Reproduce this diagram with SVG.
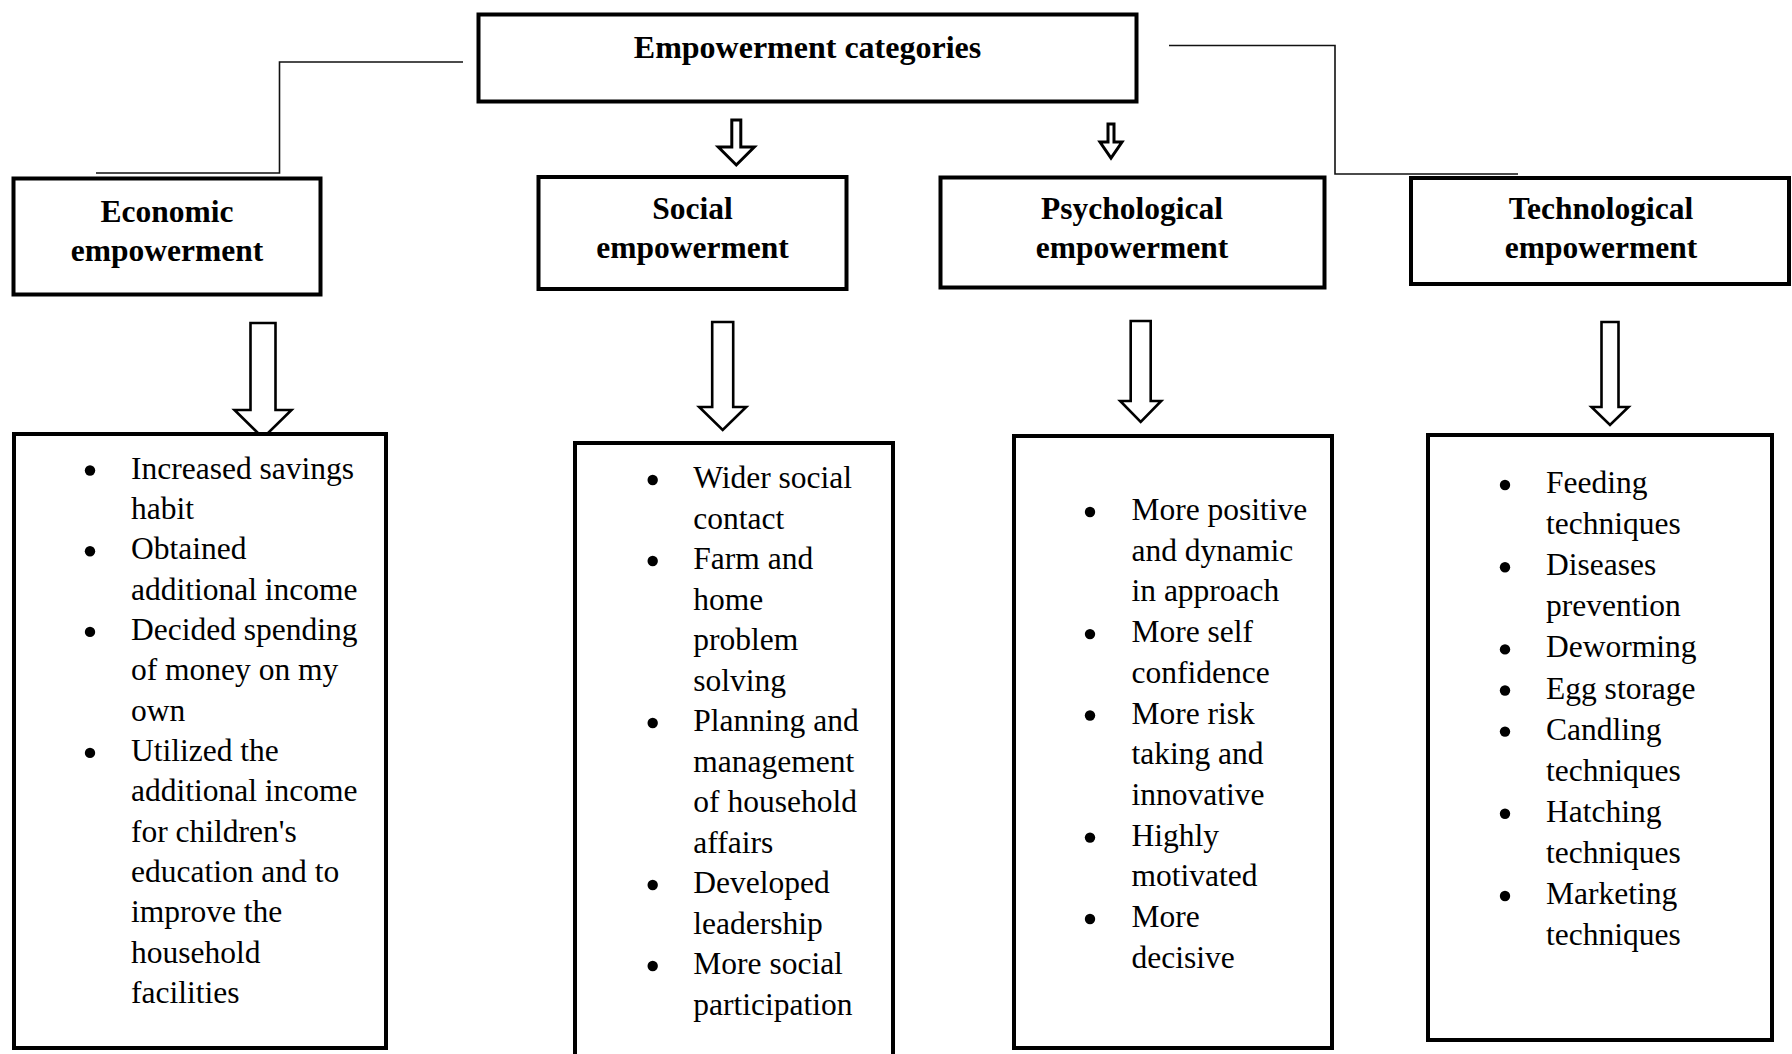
<svg xmlns="http://www.w3.org/2000/svg" width="1792" height="1054" viewBox="0 0 1792 1054">
<style>
.box{fill:#fff;stroke:#000;stroke-width:4}
.conn{fill:none;stroke:#111;stroke-width:1.6}
.arr{fill:#fff;stroke:#000;stroke-width:2.6;stroke-linejoin:miter}
.arrs{fill:#fff;stroke:#000;stroke-width:3;stroke-linejoin:miter}
.title{font-family:"Liberation Serif","Times New Roman",serif;font-weight:bold;font-size:31.5px;fill:#000;text-anchor:middle}
.item{font-family:"Liberation Serif","Times New Roman",serif;font-size:31.5px;fill:#000}
.bul{fill:#000}
</style>
<rect width="1792" height="1054" fill="#fff"/>
<g id="connectors">
<polyline class="conn" points="463,62 279.5,62 279.5,173 96,173"/>
<polyline class="conn" points="1169,45.5 1335,45.5 1335,174 1518,174"/>
<polygon class="arrs" points="731.8,120 740.8,120 740.8,147 754.3,147 736.3,165 718.3,147 731.8,147"/>
<polygon class="arrs" points="1108,124 1114,124 1114,142 1122,142 1111,158 1100,142 1108,142"/>
<polygon class="arr" points="250.5,323 275.5,323 275.5,410 291.5,410 263,438 234.5,410 250.5,410"/>
<polygon class="arr" points="712.2,322 733.2,322 733.2,407 746.2,407 722.7,430 699.2,407 712.2,407"/>
<polygon class="arr" points="1130.7,321 1150.7,321 1150.7,401 1161.2,401 1140.7,422 1120.2,401 1130.7,401"/>
<polygon class="arr" points="1601.5,322 1618.5,322 1618.5,407 1628.5,407 1610,425 1591.5,407 1601.5,407"/>
</g>
<g id="top">
<rect class="box" x="478.5" y="14.5" width="658" height="87"/>
<text class="title" x="807.5" y="58" style="font-size:32px">Empowerment categories</text>
</g>
<g id="economic">
<rect class="box" x="13.5" y="178.5" width="307" height="116"/>
<text class="title" x="167" y="222">Economic</text>
<text class="title" x="167" y="260.5">empowerment</text>
</g>
<g id="social">
<rect class="box" x="538.5" y="177" width="308" height="112"/>
<text class="title" x="692.5" y="218.5">Social</text>
<text class="title" x="692.5" y="257.5">empowerment</text>
</g>
<g id="psychological">
<rect class="box" x="940.5" y="177.5" width="384" height="110"/>
<text class="title" x="1132" y="218.5">Psychological</text>
<text class="title" x="1132" y="257.5">empowerment</text>
</g>
<g id="technological">
<rect class="box" x="1411" y="178" width="378" height="106"/>
<text class="title" x="1601" y="218.5">Technological</text>
<text class="title" x="1601" y="257.5">empowerment</text>
</g>
<g id="economic-list">
<rect class="box" x="14" y="434" width="372" height="614"/>
<circle class="bul" cx="90" cy="470.5" r="5.2"/>
<circle class="bul" cx="90" cy="551.2" r="5.2"/>
<circle class="bul" cx="90" cy="631.9" r="5.2"/>
<circle class="bul" cx="90" cy="752.9" r="5.2"/>
<text class="item" x="131"><tspan x="131" y="478.5">Increased savings</tspan><tspan x="131" y="518.85">habit</tspan><tspan x="131" y="559.2">Obtained</tspan><tspan x="131" y="599.55">additional income</tspan><tspan x="131" y="639.9">Decided spending</tspan><tspan x="131" y="680.25">of money on my</tspan><tspan x="131" y="720.6">own</tspan><tspan x="131" y="760.95">Utilized the</tspan><tspan x="131" y="801.3">additional income</tspan><tspan x="131" y="841.65">for children's</tspan><tspan x="131" y="882">education and to</tspan><tspan x="131" y="922.35">improve the</tspan><tspan x="131" y="962.7">household</tspan><tspan x="131" y="1003.05">facilities</tspan></text>
</g>
<g id="social-list">
<rect class="box" x="575" y="443" width="318" height="620"/>
<circle class="bul" cx="652.7" cy="480" r="5.2"/>
<circle class="bul" cx="652.7" cy="561" r="5.2"/>
<circle class="bul" cx="652.7" cy="723" r="5.2"/>
<circle class="bul" cx="652.7" cy="885" r="5.2"/>
<circle class="bul" cx="652.7" cy="966" r="5.2"/>
<text class="item" x="693.3"><tspan x="693.3" y="488">Wider social</tspan><tspan x="693.3" y="528.5">contact</tspan><tspan x="693.3" y="569">Farm and</tspan><tspan x="693.3" y="609.5">home</tspan><tspan x="693.3" y="650">problem</tspan><tspan x="693.3" y="690.5">solving</tspan><tspan x="693.3" y="731">Planning and</tspan><tspan x="693.3" y="771.5">management</tspan><tspan x="693.3" y="812">of household</tspan><tspan x="693.3" y="852.5">affairs</tspan><tspan x="693.3" y="893">Developed</tspan><tspan x="693.3" y="933.5">leadership</tspan><tspan x="693.3" y="974">More social</tspan><tspan x="693.3" y="1014.5">participation</tspan></text>
</g>
<g id="psychological-list">
<rect class="box" x="1014" y="436" width="318" height="612"/>
<circle class="bul" cx="1090" cy="512" r="5.2"/>
<circle class="bul" cx="1090" cy="634.1" r="5.2"/>
<circle class="bul" cx="1090" cy="715.5" r="5.2"/>
<circle class="bul" cx="1090" cy="837.6" r="5.2"/>
<circle class="bul" cx="1090" cy="919" r="5.2"/>
<text class="item" x="1131.5"><tspan x="1131.5" y="520">More positive</tspan><tspan x="1131.5" y="560.7">and dynamic</tspan><tspan x="1131.5" y="601.4">in approach</tspan><tspan x="1131.5" y="642.1">More self</tspan><tspan x="1131.5" y="682.8">confidence</tspan><tspan x="1131.5" y="723.5">More risk</tspan><tspan x="1131.5" y="764.2">taking and</tspan><tspan x="1131.5" y="804.9">innovative</tspan><tspan x="1131.5" y="845.6">Highly</tspan><tspan x="1131.5" y="886.3">motivated</tspan><tspan x="1131.5" y="927">More</tspan><tspan x="1131.5" y="967.7">decisive</tspan></text>
</g>
<g id="technological-list">
<rect class="box" x="1428" y="435" width="344" height="605"/>
<circle class="bul" cx="1505" cy="485" r="5.2"/>
<circle class="bul" cx="1505" cy="567.2" r="5.2"/>
<circle class="bul" cx="1505" cy="649.4" r="5.2"/>
<circle class="bul" cx="1505" cy="690.5" r="5.2"/>
<circle class="bul" cx="1505" cy="731.6" r="5.2"/>
<circle class="bul" cx="1505" cy="813.8" r="5.2"/>
<circle class="bul" cx="1505" cy="896" r="5.2"/>
<text class="item" x="1546"><tspan x="1546" y="493">Feeding</tspan><tspan x="1546" y="534.1">techniques</tspan><tspan x="1546" y="575.2">Diseases</tspan><tspan x="1546" y="616.3">prevention</tspan><tspan x="1546" y="657.4">Deworming</tspan><tspan x="1546" y="698.5">Egg storage</tspan><tspan x="1546" y="739.6">Candling</tspan><tspan x="1546" y="780.7">techniques</tspan><tspan x="1546" y="821.8">Hatching</tspan><tspan x="1546" y="862.9">techniques</tspan><tspan x="1546" y="904">Marketing</tspan><tspan x="1546" y="945.1">techniques</tspan></text>
</g>
</svg>
